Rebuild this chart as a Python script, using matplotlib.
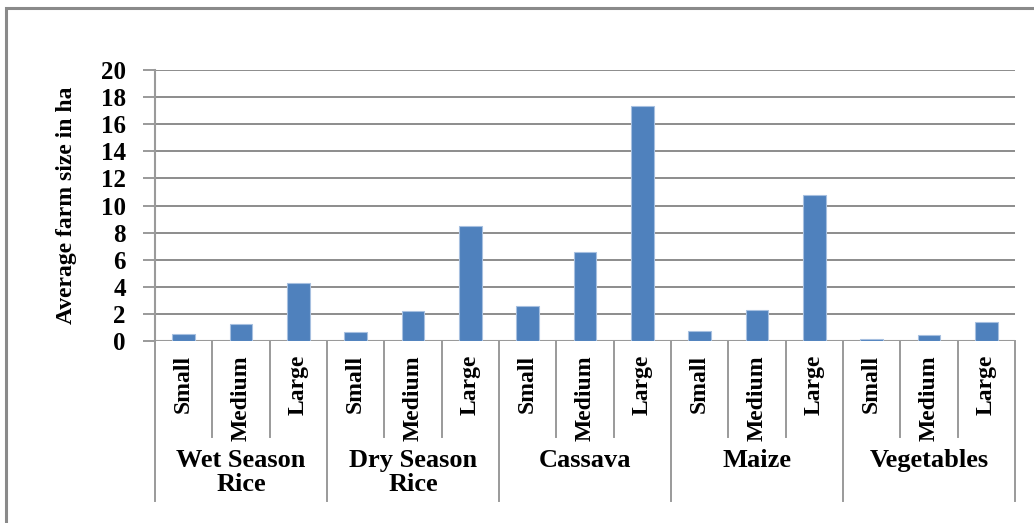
import matplotlib
matplotlib.use('Agg')
import matplotlib.pyplot as plt
from matplotlib.patches import Rectangle
import matplotlib.transforms as mtransforms

plt.rcParams['font.family'] = ['Liberation Serif', 'DejaVu Serif']

crops = ['Wet Season\nRice', 'Dry Season\nRice', 'Cassava', 'Maize', 'Vegetables']
sizes = ['Small', 'Medium', 'Large']
small = [0.5, 0.7, 2.6, 0.75, 0.12]
medium = [1.25, 2.2, 6.55, 2.3, 0.47]
large = [4.25, 8.5, 17.35, 10.75, 1.4]

values = []
labels = []
for i in range(len(crops)):
    values += [small[i], medium[i], large[i]]
    labels += sizes
xs = list(range(len(values)))

fig = plt.figure(figsize=(10.34, 5.23), dpi=100)
ax = fig.add_axes([0.1499, 0.348, 0.8317, 0.518])

ax.bar(xs, values, width=0.4, color='#4F81BD', edgecolor='#A7C0E0', linewidth=0.8, zorder=5)

ax.set_xlim(-0.5, len(values) - 0.5)
ax.set_ylim(0, 20)
ax.set_yticks(range(0, 21, 2))
ax.grid(axis='y', color='#8C8C8C', linewidth=1.4, zorder=0)
for s in ['top', 'right', 'bottom']:
    ax.spines[s].set_visible(False)
ax.spines['left'].set_color('#9A9A9A')
ax.spines['left'].set_linewidth(1.5)
ax.axhline(0, color='#9A9A9A', linewidth=1.5, zorder=4)
ax.tick_params(axis='y', length=9, width=1.4, color='#9A9A9A', pad=12, labelsize=18)
for t in ax.get_yticklabels():
    t.set_fontweight('bold')
ax.set_xticks([])

ax.set_ylabel('Average farm size in ha', fontsize=17, fontweight='bold')
ax.yaxis.set_label_coords(-0.091, 0.5)

trans = mtransforms.blended_transform_factory(ax.transData, ax.transAxes)
# separators below the axis
for k in range(len(values) + 1):
    bottom = -0.59 if k % 3 == 0 else -0.354
    ax.plot([k - 0.5, k - 0.5], [0, bottom], transform=trans, color='#9A9A9A',
            linewidth=1.4, clip_on=False)

for x, lab in zip(xs, labels):
    ax.text(x, -0.052, lab, transform=trans, rotation=90, ha='center', va='top',
            fontsize=17, fontweight='bold')

for i, crop in enumerate(crops):
    ax.text(3 * i + 1, -0.4, crop, transform=trans, ha='center', va='top',
            fontsize=19, fontweight='bold', linespacing=1.05)

fig.patches.append(Rectangle((0.0058, -0.05), 1.2, 0.9847 + 0.05, transform=fig.transFigure,
                             fill=False, edgecolor='#8A8A8A', linewidth=2.2))

fig.savefig('out.png', dpi=100)
